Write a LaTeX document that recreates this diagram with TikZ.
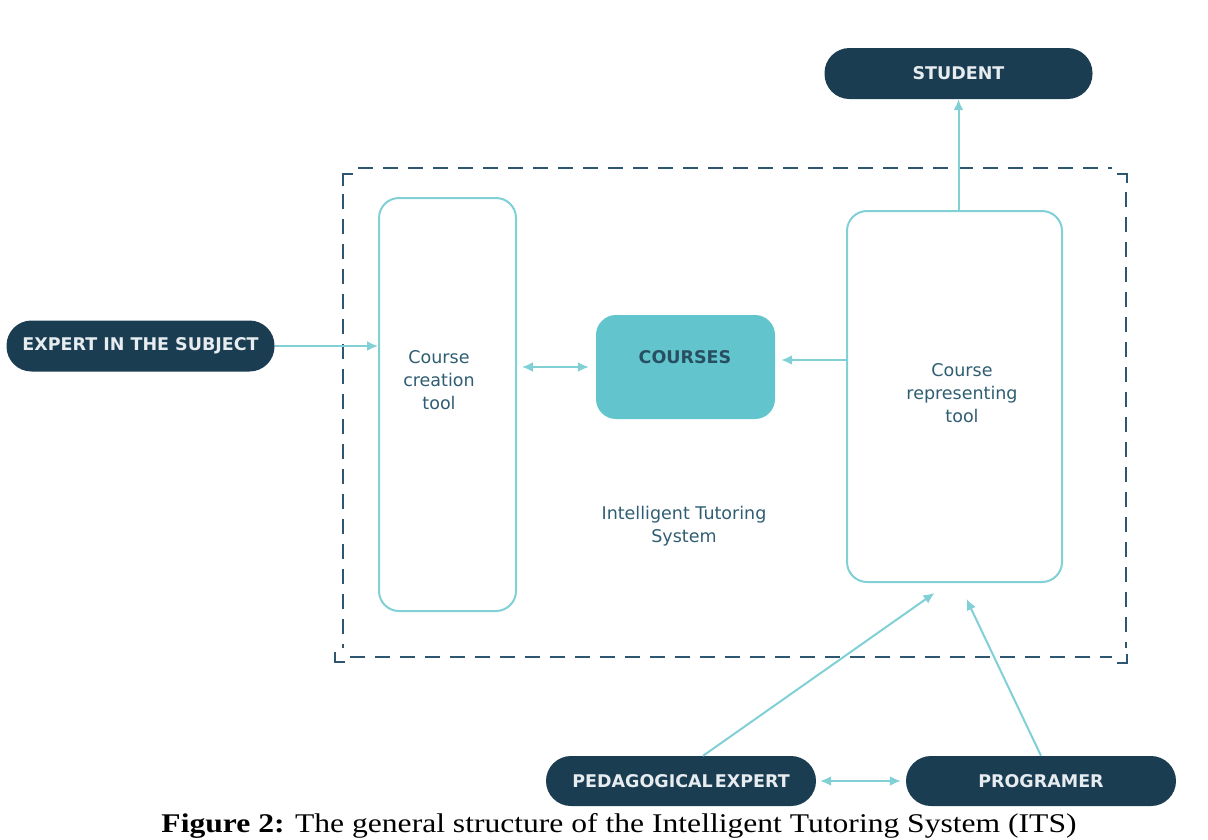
\documentclass[tikz,border=0pt]{standalone}
\usepackage{fontspec}
\setmainfont{Liberation Serif}
\newfontfamily\labelfont{DejaVu Sans}
\usetikzlibrary{arrows.meta,calc}

\definecolor{navy}{HTML}{1B3D52}
\definecolor{pilltext}{HTML}{E6ECEF}
\definecolor{aqua}{HTML}{80D0D6}
\definecolor{coursefill}{HTML}{62C5CD}
\definecolor{boxtext}{HTML}{2F5D72}
\definecolor{frame}{HTML}{2E5670}

\tikzset{
  pill/.style={fill=navy, rounded corners=25pt, minimum width=268pt, minimum height=51pt,
    inner sep=0pt, text=pilltext, font=\labelfont\bfseries\fontsize{17.5}{20}\selectfont},
  toolbox/.style={draw=aqua, line width=2pt, rounded corners=20pt, fill=white},
  boxlabel/.style={text=boxtext, align=center, font=\labelfont\fontsize{17.5}{23}\selectfont},
  link/.style={draw=aqua, line width=2pt, -{Latex[length=11pt,width=10pt]}},
  dlink/.style={draw=aqua, line width=2pt, {Latex[length=11pt,width=10pt]}-{Latex[length=11pt,width=10pt]}},
  framedash/.style={draw=frame, line width=2.5pt, dash pattern=on 15pt off 10pt},
  framecorner/.style={draw=frame, line width=2.5pt}
}

\begin{document}
\begin{tikzpicture}[x=1pt,y=-1pt]
\useasboundingbox (0,0) rectangle (1208,839);
\clip (0,0) rectangle (1208,839);

% system boundary: dashed sides with solid corner marks
\draw[framedash] (358,168) -- (1112,168);
\draw[framedash] (350,657) -- (1112,657);
\draw[framedash] (343,194) -- (343,648);
\draw[framedash] (1126,192) -- (1126,648);
\draw[framecorner] (343,186) -- (343,174) -- (353,174);
\draw[framecorner] (335,652) -- (335,662) -- (345,662);
\draw[framecorner] (1117,663) -- (1127,663) -- (1127,654);
\draw[framecorner] (1117,174) -- (1127,174) -- (1127,183);

% tools inside the system
\node[toolbox, minimum width=137pt, minimum height=413pt] (create) at (447.5,404.5) {};
\node[boxlabel] (createtxt) at (439,380) {Course\\creation\\tool};

\node[toolbox, minimum width=215pt, minimum height=371pt] (rep) at (954.5,396.5) {};
\node[boxlabel] (reptxt) at (962,393) {Course\\representing\\tool};

\node[fill=coursefill, rounded corners=20pt, minimum width=179pt, minimum height=104pt,
      inner sep=0pt] (courses) at (685.5,367) {};
\node[text=boxtext!85!black, font=\labelfont\bfseries\fontsize{17.5}{22}\selectfont]
      (coursestxt) at (685,357) {COURSES};

\node[boxlabel] (its) at (684,526) {Intelligent Tutoring\\System};

% actors
\node[pill] (expert) at (140.5,346) {EXPERT IN THE SUBJECT};
\node[pill] (student) at (958.5,73.5) {STUDENT};
\node[pill, minimum width=270pt, minimum height=50pt] (ped) at (681,781) {PEDAGOGICAL\hspace{2pt}EXPERT};
\node[pill, minimum width=270pt, minimum height=50pt] (prog) at (1041,781) {PROGRAMER};

% connections
\draw[link] (expert.east) -- (create.west |- expert.east);
\draw[dlink] ($(create.east |- 0,367)+(5,0)$) -- ($(courses.west)+(-7,0)$);
\draw[link] (rep.west |- 0,360) -- ($(courses.east |- 0,360)+(6,0)$);
\draw[link] (rep.north -| student.south) -- (student.south);
\draw[link] ([xshift=22pt]ped.north) -- ([xshift=-20pt,yshift=-10pt]rep.south);
\draw[link] (prog.north) -- ([xshift=12pt,yshift=-16pt]rep.south);
\draw[dlink] ($(ped.east)+(4,0)$) -- ($(prog.west)+(-5,0)$);

% caption
\node[anchor=base, inner sep=0pt, xscale=1.17] (caption) at (619,832)
  {\fontsize{27}{30}\selectfont\textbf{Figure 2:} The general structure of the Intelligent Tutoring System (ITS)};
\end{tikzpicture}
\end{document}
